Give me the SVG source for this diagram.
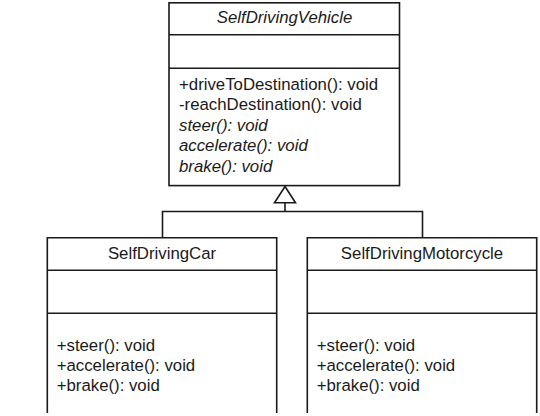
<svg xmlns="http://www.w3.org/2000/svg" width="540" height="416" viewBox="0 0 540 416">
<style>
.box{fill:#fff;stroke:#1a1a1a;stroke-width:1.6}
.ln{fill:none;stroke:#1a1a1a;stroke-width:1.6}
text{font-family:"Liberation Sans",Arial,sans-serif;font-size:16.8px;fill:#1a1a1a}
.c{text-anchor:middle}
.i{font-style:italic}
</style>
<rect width="540" height="416" fill="#fff"/>
<g id="connectors">
<path class="ln" d="M162.5 237.5 V211.5 H422.5 V237.5"/>
<path class="ln" d="M285 211.5 V202.7"/>
<polygon class="box" points="285,186.5 295.5,202.7 274.5,202.7"/>
</g>
<g id="SelfDrivingVehicle">
<rect class="box" x="169" y="2.8" width="230.5" height="182.8"/>
<line class="ln" x1="169" y1="34.7" x2="399.5" y2="34.7"/>
<line class="ln" x1="169" y1="68.3" x2="399.5" y2="68.3"/>
<text class="c i" x="284.5" y="23">SelfDrivingVehicle</text>
<text x="179" y="89.5">+driveToDestination(): void</text>
<text x="179" y="110">-reachDestination(): void</text>
<text class="i" x="179" y="130.5">steer(): void</text>
<text class="i" x="179" y="151">accelerate(): void</text>
<text class="i" x="179" y="171.5">brake(): void</text>
</g>
<g id="SelfDrivingCar">
<path class="box" d="M47.3 413 V237.7 H276.7 V413"/>
<line class="ln" x1="47.3" y1="270.3" x2="276.7" y2="270.3"/>
<line class="ln" x1="47.3" y1="313.3" x2="276.7" y2="313.3"/>
<text class="c" x="162" y="259">SelfDrivingCar</text>
<text x="56.7" y="350.5">+steer(): void</text>
<text x="56.7" y="370.5">+accelerate(): void</text>
<text x="56.7" y="390.5">+brake(): void</text>
</g>
<g id="SelfDrivingMotorcycle">
<path class="box" d="M307.3 413 V237.7 H536.7 V413"/>
<line class="ln" x1="307.3" y1="270.3" x2="536.7" y2="270.3"/>
<line class="ln" x1="307.3" y1="313.3" x2="536.7" y2="313.3"/>
<text class="c" x="422" y="259">SelfDrivingMotorcycle</text>
<text x="316.7" y="350.5">+steer(): void</text>
<text x="316.7" y="370.5">+accelerate(): void</text>
<text x="316.7" y="390.5">+brake(): void</text>
</g>
</svg>
